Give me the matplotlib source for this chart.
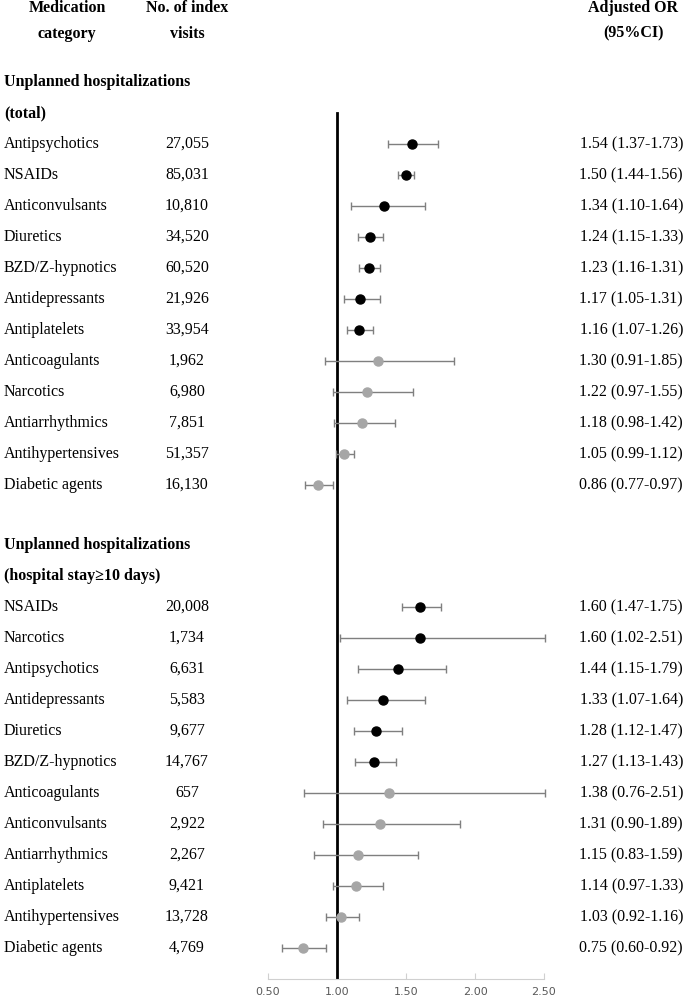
import matplotlib
matplotlib.use("Agg")
import matplotlib.pyplot as plt
from matplotlib.transforms import blended_transform_factory

# section 1: unplanned hospitalizations (total)
drugs1 = ['Antipsychotics', 'NSAIDs', 'Anticonvulsants', 'Diuretics', 'BZD/Z-hypnotics',
          'Antidepressants', 'Antiplatelets', 'Anticoagulants', 'Narcotics',
          'Antiarrhythmics', 'Antihypertensives', 'Diabetic agents']
visits1 = ['27,055', '85,031', '10,810', '34,520', '60,520', '21,926', '33,954',
           '1,962', '6,980', '7,851', '51,357', '16,130']
or1 = [1.54, 1.50, 1.34, 1.24, 1.23, 1.17, 1.16, 1.30, 1.22, 1.18, 1.05, 0.86]
lo1 = [1.37, 1.44, 1.10, 1.15, 1.16, 1.05, 1.07, 0.91, 0.97, 0.98, 0.99, 0.77]
hi1 = [1.73, 1.56, 1.64, 1.33, 1.31, 1.31, 1.26, 1.85, 1.55, 1.42, 1.12, 0.97]

# section 2: hospital stay >= 10 days
drugs2 = ['NSAIDs', 'Narcotics', 'Antipsychotics', 'Antidepressants', 'Diuretics',
          'BZD/Z-hypnotics', 'Anticoagulants', 'Anticonvulsants', 'Antiarrhythmics',
          'Antiplatelets', 'Antihypertensives', 'Diabetic agents']
visits2 = ['20,008', '1,734', '6,631', '5,583', '9,677', '14,767', '657', '2,922',
           '2,267', '9,421', '13,728', '4,769']
or2 = [1.60, 1.60, 1.44, 1.33, 1.28, 1.27, 1.38, 1.31, 1.15, 1.14, 1.03, 0.75]
lo2 = [1.47, 1.02, 1.15, 1.07, 1.12, 1.13, 0.76, 0.90, 0.83, 0.97, 0.92, 0.60]
hi2 = [1.75, 2.51, 1.79, 1.64, 1.47, 1.43, 2.51, 1.89, 1.59, 1.33, 1.16, 0.92]

headers = ['Unplanned hospitalizations\n(total)',
           'Unplanned hospitalizations\n(hospital stay\u226510 days)']
xticks = [0.5, 1.0, 1.5, 2.0, 2.5]

W, H = 685, 1001
fig = plt.figure(figsize=(W / 100, H / 100), dpi=100)
ax_bottom = 979
ax = fig.add_axes([268 / W, 1 - ax_bottom / H, 276 / W, ax_bottom / H])
ax.set_xlim(0.5, 2.5)
ax.set_ylim(ax_bottom, 0)

serif = 'Liberation Serif'
fs = 11.5
tr = blended_transform_factory(fig.transFigure, ax.transData)

# column headers
for xc, lab in [(67, 'Medication\ncategory'), (187, 'No. of index\nvisits'),
                (633, 'Adjusted OR\n(95%CI)')]:
    ax.text(xc / W, 21, lab, transform=tr, ha='center', va='center',
            fontfamily=serif, fontweight='bold', fontsize=fs, linespacing=1.75)

step = 31
sections = [(drugs1, visits1, or1, lo1, hi1, 82), (drugs2, visits2, or2, lo2, hi2, 545)]
for (drugs, visits, ors, los, his, y0), head in zip(sections, headers):
    for k, line in enumerate(head.split('\n')):
        ax.text(4 / W, y0 + k * step, line, transform=tr, ha='left', va='center',
                fontfamily=serif, fontweight='bold', fontsize=fs)
    for i in range(len(drugs)):
        y = y0 + (i + 2) * step
        col = 'black' if los[i] > 1 else '#a6a6a6'
        ax.errorbar(ors[i], y, xerr=[[ors[i] - los[i]], [his[i] - ors[i]]],
                    fmt='o', color=col, ecolor='#7f7f7f', elinewidth=1,
                    capsize=3, capthick=1, markersize=6.5, clip_on=False, zorder=3)
        ax.text(4 / W, y, drugs[i], transform=tr, ha='left', va='center',
                fontfamily=serif, fontsize=fs)
        ax.text(187 / W, y, visits[i], transform=tr, ha='center', va='center',
                fontfamily=serif, fontsize=fs)
        ax.text(683 / W, y, f'{ors[i]:.2f} ({los[i]:.2f}-{his[i]:.2f})', transform=tr,
                ha='right', va='center', fontfamily=serif, fontsize=fs)

# reference line at OR = 1
ax.plot([1, 1], [113, ax_bottom], color='black', lw=2, zorder=2)

for s in ['top', 'left', 'right']:
    ax.spines[s].set_visible(False)
ax.spines['bottom'].set_color('#d0d0d0')
ax.set_yticks([])
ax.set_xticks(xticks)
ax.set_xticklabels([f'{v:.2f}' for v in xticks])
ax.tick_params(axis='x', direction='in', length=4, color='#d0d0d0',
               labelcolor='#595959', labelsize=8, pad=6)

fig.savefig('out.png', dpi=100)
